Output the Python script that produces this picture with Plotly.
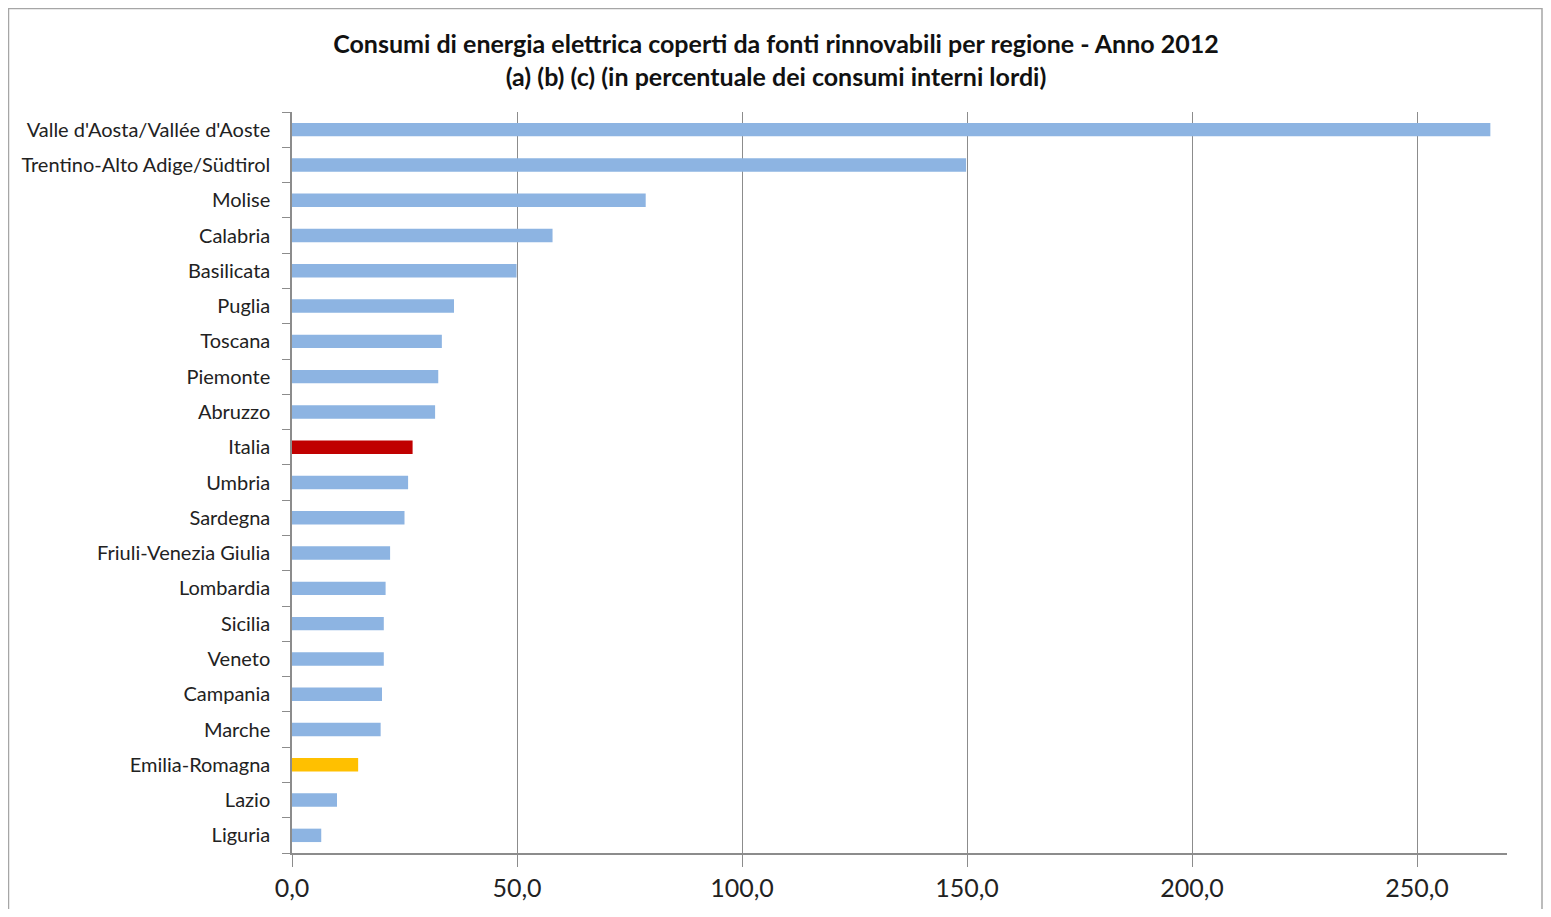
import plotly.graph_objects as go

regions = [
    "Valle d'Aosta/Vallée d'Aoste", "Trentino-Alto Adige/Südtirol", "Molise", "Calabria",
    "Basilicata", "Puglia", "Toscana", "Piemonte", "Abruzzo", "Italia", "Umbria",
    "Sardegna", "Friuli-Venezia Giulia", "Lombardia", "Sicilia", "Veneto", "Campania",
    "Marche", "Emilia-Romagna", "Lazio", "Liguria",
]
values = [266.3, 149.8, 78.6, 57.9, 49.9, 36.0, 33.3, 32.5, 31.8, 26.8, 25.8,
          25.0, 21.8, 20.8, 20.4, 20.4, 20.0, 19.7, 14.7, 10.0, 6.5]

x_ticks = [0, 50, 100, 150, 200, 250]
x_tick_labels = ["0,0", "50,0", "100,0", "150,0", "200,0", "250,0"]

BLUE = "#8DB4E2"
RED = "#C00000"
GOLD = "#FFC000"
colors = [RED if r == "Italia" else GOLD if r == "Emilia-Romagna" else BLUE for r in regions]

fig = go.Figure(go.Bar(
    x=values, y=regions, orientation="h",
    marker=dict(color=colors, line=dict(width=0)),
))

# page is offset by 8px (body margin); coordinates below are figure coordinates
OFF = 8
W, H = 1535, 901
L, R, T, B = 292 - OFF, W - (1507 - OFF), 112 - OFF, H - (853 - OFF)
pw, ph = W - L - R, H - T - B

def px_x(p):
    return (p - OFF - L) / pw

def px_y(p):
    return (H - B - (p - OFF)) / ph

fig.update_layout(
    width=W, height=H,
    margin=dict(l=L, r=R, t=T, b=B, autoexpand=False),
    paper_bgcolor="white", plot_bgcolor="white",
    bargap=0.62,
    showlegend=False,
    font=dict(family="Lato, 'Open Sans', sans-serif", color="#222"),
    title=dict(
        text="<b>Consumi di energia elettrica coperti da fonti rinnovabili per regione - Anno 2012</b><br>"
             "<b>(a) (b) (c) (in percentuale dei consumi interni lordi)</b>",
        x=(776 - OFF) / W, xref="container", xanchor="center",
        y=1 - (53 - OFF) / H, yref="container", yanchor="middle",
        font=dict(size=25, family="Lato, 'Open Sans', sans-serif", color="#111"),
    ),
    xaxis=dict(
        range=[0, 270],
        tickmode="array", tickvals=x_ticks, ticktext=x_tick_labels,
        showgrid=True, gridcolor="#8c8c8c", gridwidth=1,
        showline=True, linecolor="#8c8c8c", linewidth=1.5,
        ticks="outside", ticklen=12, tickcolor="#8c8c8c",
        tickfont=dict(size=25, color="#222"),
        zeroline=False, fixedrange=True, automargin=False,
    ),
    yaxis=dict(
        categoryorder="array", categoryarray=list(reversed(regions)),
        showline=True, linecolor="#8c8c8c", linewidth=1.5,
        ticks="outside", ticklen=8, tickcolor="#8c8c8c", tickson="boundaries",
        tickfont=dict(size=20, color="#222"),
        ticklabelstandoff=16,
        showgrid=False, fixedrange=True, automargin=False,
    ),
    shapes=[dict(
        type="rect", xref="paper", yref="paper",
        x0=px_x(8.5), x1=px_x(1542), y0=px_y(940), y1=px_y(8.5),
        line=dict(color="#a6a6a6", width=1.5), fillcolor="rgba(0,0,0,0)", layer="below",
    )],
)

fig.write_html("out.html")
